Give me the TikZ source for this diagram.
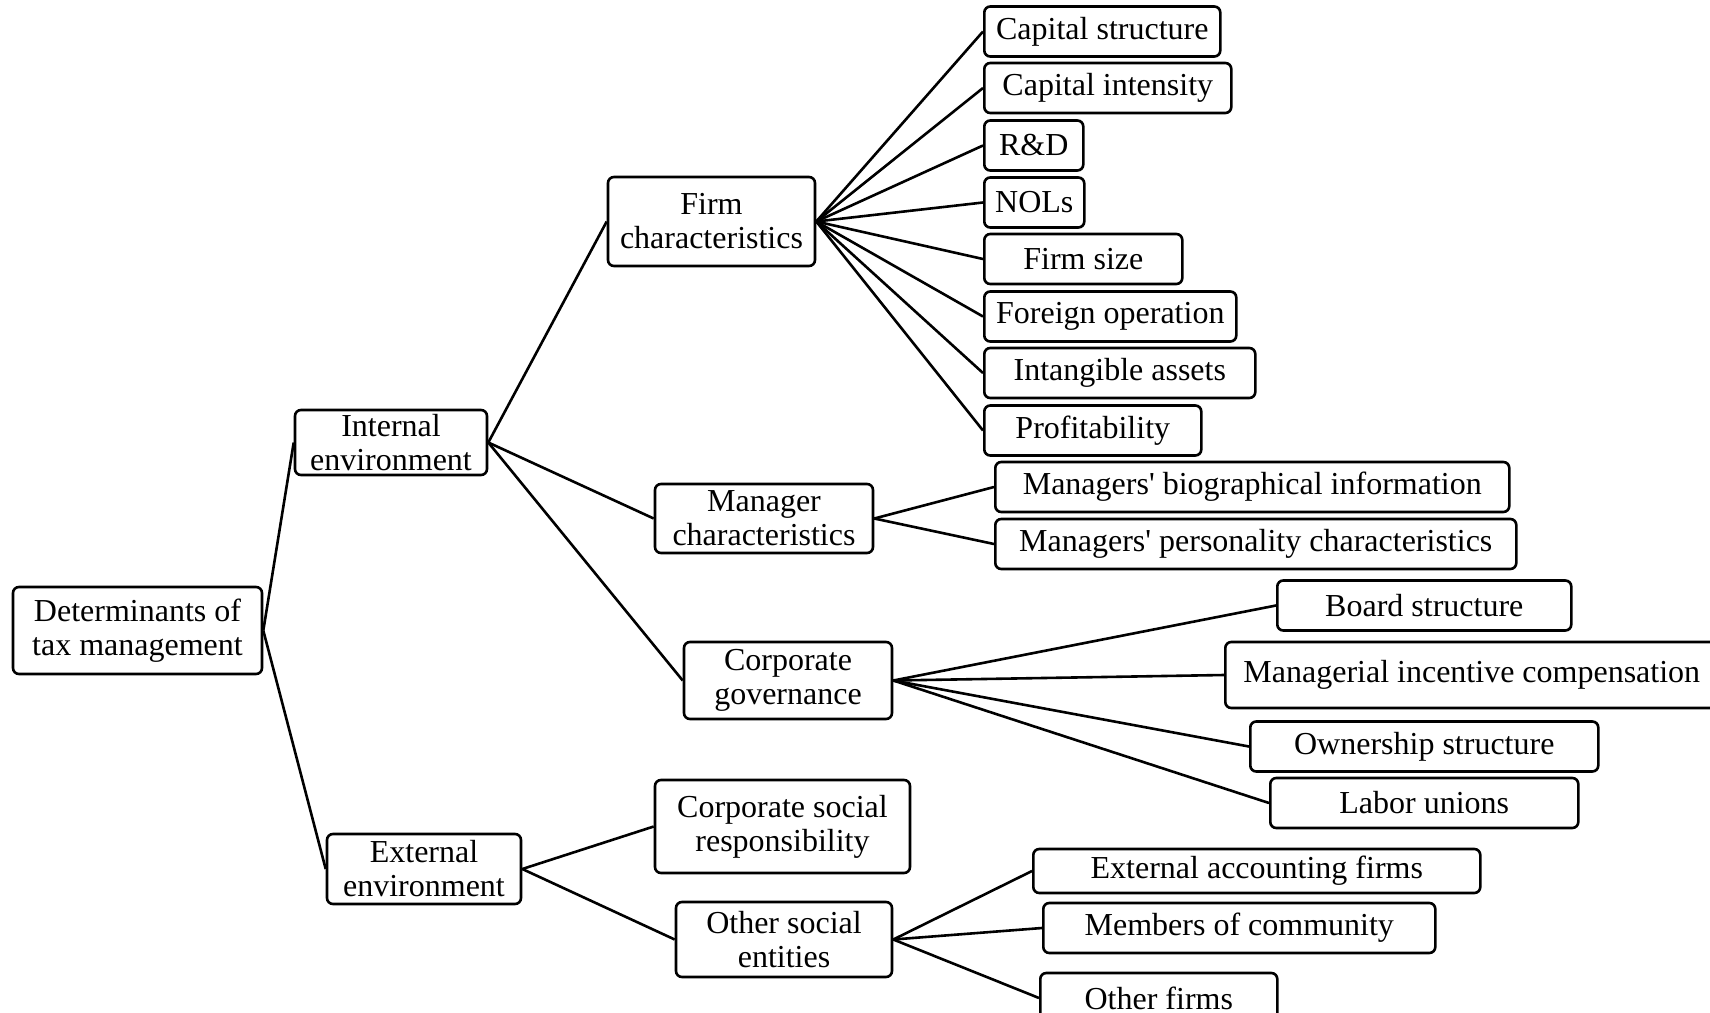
\documentclass[tikz,border=0pt]{standalone}
\usepackage{fontspec}
\setmainfont{Liberation Serif}[Ligatures=TeXOff]
\usetikzlibrary{positioning}
\tikzset{
  topic/.style={draw=black, line width=1.3pt, rounded corners=3pt, fill=white, align=center, inner xsep=2pt, inner ysep=0pt, font=\fontsize{16}{17}\selectfont},
  factor/.style={topic, anchor=west, minimum height=25pt},
  link/.style={line width=1.3pt, black}
}
\begin{document}
\begin{tikzpicture}[x=0.5pt,y=-0.5pt]
  \useasboundingbox (0,0) rectangle (1710,1013);
  \clip (0,0) rectangle (1710,1013);
  \node[topic, minimum width=124.5pt, minimum height=43.5pt] (root) at (137.5,630.5) {Determinants of\\tax management};
  \node[topic, minimum width=96pt, minimum height=32.5pt] (inte) at (391,442.5) {Internal\\environment};
  \node[topic, minimum width=97pt, minimum height=35pt] (exte) at (424,869) {External\\environment};
  \node[topic, minimum width=103.5pt, minimum height=44.5pt] (firm) at (711.5,221.5) {Firm\\characteristics};
  \node[topic, minimum width=109pt, minimum height=34.5pt] (mgr) at (764,518.5) {Manager\\characteristics};
  \node[topic, minimum width=104pt, minimum height=38.5pt] (gov) at (788,680.5) {Corporate\\governance};
  \node[topic, minimum width=127.5pt, minimum height=46.5pt] (csr) at (782.5,826.5) {Corporate social\\responsibility};
  \node[topic, minimum width=108pt, minimum height=37.5pt] (ose) at (784,939.5) {Other social\\entities};
  \node[factor, minimum width=118pt] (cs) at (983,31.5) {Capital structure};
  \node[factor, minimum width=123.5pt] (ci) at (983,88) {Capital intensity};
  \node[factor, minimum width=49.5pt] (rd) at (983,145.5) {R\&D};
  \node[factor, minimum width=50pt] (nol) at (983,202.5) {NOLs};
  \node[factor, minimum width=99pt] (fs) at (983,259) {Firm size};
  \node[factor, minimum width=126pt] (fo) at (983,316.5) {Foreign operation};
  \node[factor, minimum width=135.5pt] (ia) at (983,373) {Intangible assets};
  \node[factor, minimum width=108.5pt] (pr) at (983,430.5) {Profitability};
  \node[factor, minimum width=257pt] (bio) at (994,487) {Managers' biographical information};
  \node[factor, minimum width=260.5pt] (pers) at (994,544) {Managers' personality characteristics};
  \node[factor, minimum width=147pt] (board) at (1276,605.5) {Board structure};
  \node[factor, minimum width=246.5pt, minimum height=33pt] (inc) at (1224,675) {Managerial incentive compensation};
  \node[factor, minimum width=174pt] (own) at (1249,746.5) {Ownership structure};
  \node[factor, minimum width=154pt] (lab) at (1269,803) {Labor unions};
  \node[factor, minimum width=223.5pt, minimum height=22pt] (eaf) at (1032,871) {External accounting firms};
  \node[factor, minimum width=196pt] (mem) at (1042,928) {Members of community};
  \node[factor, minimum width=118.5pt] (oth) at (1039,998) {Other firms};
  \draw[link] (root.east) -- (inte.west);
  \draw[link] (root.east) -- (exte.west);
  \foreach \n in {firm,mgr,gov} \draw[link] (inte.east) -- (\n.west);
  \foreach \n in {csr,ose} \draw[link] (exte.east) -- (\n.west);
  \foreach \n in {cs,ci,rd,nol,fs,fo,ia,pr} \draw[link] (firm.east) -- (\n.west);
  \foreach \n in {bio,pers} \draw[link] (mgr.east) -- (\n.west);
  \foreach \n in {board,inc,own,lab} \draw[link] (gov.east) -- (\n.west);
  \foreach \n in {eaf,mem,oth} \draw[link] (ose.east) -- (\n.west);
\end{tikzpicture}
\end{document}
